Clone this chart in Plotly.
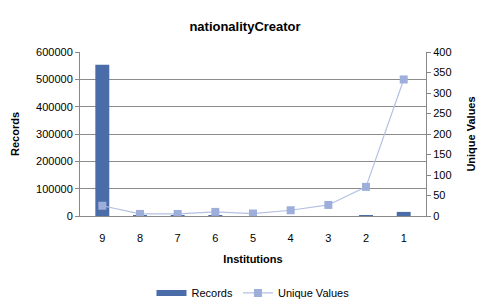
import plotly.graph_objects as go

institutions = ["9", "8", "7", "6", "5", "4", "3", "2", "1"]
records = [553000, 3000, 3000, 2000, 0, 0, 0, 3000, 15000]
unique_values = [25, 5, 5, 10, 6, 14, 27, 71, 333]

bar_color = "#4A6CA8"
fig = go.Figure()
fig.add_trace(go.Bar(x=institutions, y=records, name="Records", showlegend=False,
                     marker=dict(color=bar_color, line=dict(width=0))))
# legend entry styled like the reference's wide bar swatch
fig.add_trace(go.Scatter(x=[None], y=[None], name="Records", mode="lines",
                         line=dict(color=bar_color, width=6)))
fig.add_trace(go.Scatter(x=institutions, y=unique_values, name="Unique Values", yaxis="y2",
                         mode="lines+markers",
                         line=dict(color="#B4C1E2", width=1.2),
                         marker=dict(symbol="square", size=8, color="#9DAEDB")))

font = "Liberation Sans, Arial, sans-serif"
fig.update_layout(
    width=490, height=307,
    margin=dict(l=80, r=64, t=52, b=91, autoexpand=False),
    paper_bgcolor="white", plot_bgcolor="white",
    font=dict(family=font, size=11, color="#000000"),
    title=dict(text="<b>nationalityCreator</b>", x=0.5, xanchor="center", y=0.915, yanchor="middle",
               font=dict(size=13, family=font, color="#000")),
    bargap=0.63,
    showlegend=True,
    legend=dict(orientation="h", x=0.5, xanchor="center", yref="container", y=0.046, yanchor="middle",
                font=dict(size=11), traceorder="normal"),
    xaxis=dict(type="category", showgrid=False, showline=True, linecolor="#888", ticks="",
               title=dict(text="<b>Institutions</b>", font=dict(size=11), standoff=12),
               tickfont=dict(size=11), ticklabelstandoff=12),
    yaxis=dict(range=[0, 600000], dtick=100000, showgrid=True, gridcolor="#8c8c8c", gridwidth=1,
               showline=True, linecolor="#888", ticks="outside", ticklen=4, tickcolor="#888",
               title=dict(text="<b>Records</b>", font=dict(size=11), standoff=14),
               tickformat="d", zeroline=False),
    yaxis2=dict(range=[0, 400], dtick=50, overlaying="y", side="right", showgrid=False,
                showline=True, linecolor="#888", ticks="outside", ticklen=4, tickcolor="#888",
                title=dict(text="<b>Unique Values</b>", font=dict(size=11), standoff=16),
                zeroline=False),
)
fig.write_html("out.html")
